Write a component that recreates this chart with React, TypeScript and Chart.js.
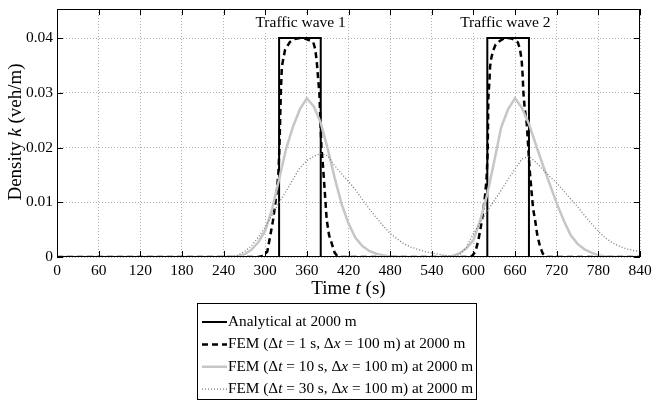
import { useEffect, useRef } from "react";
import { Chart, registerables } from "chart.js";

Chart.register(...registerables);

const FONT = '"Liberation Serif", "Times New Roman", serif';
const FS = 15.5;
const TITLE_FS = 19;
const LEGEND_FS = 15.3;

// ---- axis definitions ----
const X_MIN = 0;
const X_MAX = 840;
const Y_MIN = 0;
const Y_MAX = 0.0453;
const xTickValues = [0, 60, 120, 180, 240, 300, 360, 420, 480, 540, 600, 660, 720, 780, 840];
const yTickValues = [0, 0.01, 0.02, 0.03, 0.04];

// ---- series data: [time (s), density (veh/m)] ----
const analytical: [number, number][] = [
  [0, 0], [320, 0], [320, 0.04], [380, 0.04], [380, 0],
  [620, 0], [620, 0.04], [680, 0.04], [680, 0], [840, 0],
];

const fem1Wave1: [number, number][] = [
  [0, 0], [290, 0], [298, 0.0002], [303, 0.001], [307, 0.0037], [311, 0.0065], [314, 0.0092],
  [317, 0.0125], [319, 0.0153], [320.5, 0.02], [321.5, 0.025], [322.5, 0.03], [324, 0.0348],
  [328.5, 0.0378], [335.7, 0.0393], [342, 0.0398], [350, 0.04], [357, 0.0399], [363, 0.0396],
  [369.3, 0.0392], [372, 0.038], [374, 0.036], [376, 0.033], [378, 0.03], [379.5, 0.025],
  [381, 0.02], [383, 0.017], [386, 0.0116], [388.6, 0.0068], [392, 0.004], [395.8, 0.0025],
  [400, 0.0008], [405, 0],
];
const fem1Wave2: [number, number][] = [
  [590, 0], [598, 0.0002], [603, 0.001], [607, 0.003], [610, 0.005], [614, 0.0082], [617, 0.0115],
  [619, 0.0145], [620.5, 0.019], [621, 0.024], [621.5, 0.029], [623, 0.032], [624, 0.0348],
  [626, 0.0365], [628.7, 0.0378], [632, 0.0388], [636, 0.0393], [642, 0.0398], [648, 0.04],
  [655, 0.0399], [660, 0.0396], [664, 0.0392], [667, 0.038], [669.5, 0.036], [671, 0.033],
  [672, 0.03], [674, 0.027], [676.8, 0.0244], [679, 0.02], [681, 0.016], [684, 0.0116],
  [686, 0.0088], [688.8, 0.0068], [692, 0.004], [696, 0.0019], [700, 0.0006], [706, 0], [840, 0],
];

const fem10Wave1: [number, number][] = [
  [0, 0], [250, 0], [260, 0.0001], [270, 0.0005], [280, 0.0013], [290, 0.0027], [300, 0.0048],
  [310, 0.0088], [320, 0.0142], [330, 0.0197], [340, 0.0238], [350, 0.027], [360, 0.029],
  [370, 0.0275], [380, 0.0245], [390, 0.0198], [400, 0.0145], [410, 0.0097], [420, 0.0061],
  [430, 0.0035], [440, 0.002], [450, 0.0011], [460, 0.0006], [470, 0.0003], [480, 0.0001], [500, 0],
];
const fem10Wave2: [number, number][] = [
  [560, 0], [570, 0.0002], [580, 0.0007], [590, 0.0016], [600, 0.0031], [610, 0.0068],
  [620, 0.0115], [630, 0.0175], [640, 0.0237], [650, 0.027], [660, 0.029], [670, 0.0272],
  [680, 0.0243], [690, 0.0205], [700, 0.0168], [710, 0.0133], [720, 0.0098], [730, 0.0067],
  [740, 0.004], [750, 0.0024], [760, 0.0014], [770, 0.0008], [780, 0.0003], [790, 0.0001],
  [810, 0], [840, 0],
];

const fem30Wave1: [number, number][] = [
  [0, 0], [250, 0], [260, 0.0003], [270, 0.001], [280, 0.002], [290, 0.0036], [300, 0.0055],
  [310, 0.0077], [320, 0.0099], [330, 0.012], [340, 0.0142], [350, 0.0163], [360, 0.0176],
  [370, 0.0184], [380, 0.0189], [390, 0.0185], [400, 0.0167], [410, 0.0152], [420, 0.0138],
  [430, 0.0123], [440, 0.0105], [450, 0.0088], [460, 0.0072], [470, 0.0057], [480, 0.0043],
  [490, 0.0033], [500, 0.0024], [510, 0.0018], [520, 0.0014], [530, 0.001], [540, 0.0007],
  [550, 0.0005], [560, 0.0003], [570, 0.0002],
];
const fem30Wave2: [number, number][] = [
  [575, 0.0002], [580, 0.0004], [590, 0.0018], [600, 0.0043], [610, 0.0063], [620, 0.0084],
  [630, 0.0103], [640, 0.0122], [650, 0.0142], [660, 0.0161], [670, 0.0179], [680, 0.0184],
  [690, 0.0173], [700, 0.016], [710, 0.0147], [720, 0.0135], [730, 0.0121], [740, 0.0106],
  [750, 0.0092], [760, 0.0076], [770, 0.0061], [780, 0.0047], [790, 0.0035], [800, 0.0026],
  [810, 0.002], [820, 0.0015], [830, 0.0012], [840, 0.001],
];

// ---- annotations ----
const waveLabels = ["Traffic wave 1", "Traffic wave 2"];
const waveLabelTimes = [351, 646];
const waveLabelDensity = 0.0427;

type Seg = { t: string; i?: boolean };
const xTitle: Seg[] = [{ t: "Time " }, { t: "t", i: true }, { t: " (s)" }];
const yTitle: Seg[] = [{ t: "Density " }, { t: "k", i: true }, { t: " (veh/m)" }];
const legendLabels: Seg[][] = [
  [{ t: "Analytical at 2000 m" }],
  [{ t: "FEM (\u0394" }, { t: "t", i: true }, { t: " = 1 s, \u0394" }, { t: "x", i: true }, { t: " = 100 m) at 2000 m" }],
  [{ t: "FEM (\u0394" }, { t: "t", i: true }, { t: " = 10 s, \u0394" }, { t: "x", i: true }, { t: " = 100 m) at 2000 m" }],
  [{ t: "FEM (\u0394" }, { t: "t", i: true }, { t: " = 30 s, \u0394" }, { t: "x", i: true }, { t: " = 100 m) at 2000 m" }],
];

const styles = [
  { color: "#000000", width: 2, dash: [] as number[] },
  { color: "#000000", width: 2.5, dash: [6, 4] },
  { color: "#c6c6c6", width: 2.5, dash: [] as number[] },
  { color: "#7a7a7a", width: 1.3, dash: [1, 2] },
];

const toPts = (arr: [number, number][]) => arr.map(([x, y]) => ({ x, y }));

function drawRich(
  ctx: CanvasRenderingContext2D,
  segs: Seg[],
  x: number,
  y: number,
  align: "left" | "center",
  size: number
) {
  const fonts = segs.map((s) => `${s.i ? "italic " : ""}${size}px ${FONT}`);
  const widths = segs.map((s, k) => {
    ctx.font = fonts[k];
    return ctx.measureText(s.t).width;
  });
  const total = widths.reduce((a, b) => a + b, 0);
  let cx = align === "center" ? x - total / 2 : x;
  ctx.textAlign = "left";
  ctx.textBaseline = "middle";
  ctx.fillStyle = "#000";
  segs.forEach((s, k) => {
    ctx.font = fonts[k];
    ctx.fillText(s.t, cx, y);
    cx += widths[k];
  });
  return total;
}

const decorPlugin = {
  id: "decor",
  afterDraw(chart: any) {
    const { ctx, chartArea: a, scales } = chart;
    const x = scales.x;
    const y = scales.y;
    ctx.save();
    ctx.setLineDash([]);

    // wave labels with white background
    ctx.font = `${FS}px ${FONT}`;
    waveLabels.forEach((lab, i) => {
      const px = x.getPixelForValue(waveLabelTimes[i]);
      const py = y.getPixelForValue(waveLabelDensity);
      const w = ctx.measureText(lab).width;
      ctx.fillStyle = "#fff";
      ctx.fillRect(px - w / 2 - 1, py - 8, w + 2, 16);
      ctx.fillStyle = "#000";
      ctx.textAlign = "center";
      ctx.textBaseline = "middle";
      ctx.fillText(lab, px, py);
    });

    // frame
    ctx.strokeStyle = "#000";
    ctx.lineWidth = 1;
    ctx.strokeRect(a.left + 0.5, a.top + 0.5, a.right - a.left - 1, a.bottom - a.top - 1);

    // inward ticks
    const TL = 6;
    ctx.beginPath();
    xTickValues.forEach((v) => {
      const px = Math.round(x.getPixelForValue(v)) + 0.5;
      ctx.moveTo(px, a.bottom);
      ctx.lineTo(px, a.bottom - TL);
      ctx.moveTo(px, a.top);
      ctx.lineTo(px, a.top + TL);
    });
    yTickValues.forEach((v) => {
      const py = Math.round(y.getPixelForValue(v)) + 0.5;
      ctx.moveTo(a.left, py);
      ctx.lineTo(a.left + TL, py);
      ctx.moveTo(a.right, py);
      ctx.lineTo(a.right - TL, py);
    });
    ctx.stroke();

    // axis titles
    drawRich(ctx, xTitle, (a.left + a.right) / 2, 289, "center", TITLE_FS);
    ctx.save();
    ctx.translate(16, (a.top + a.bottom) / 2 - 1);
    ctx.rotate(-Math.PI / 2);
    drawRich(ctx, yTitle, 0, 0, "center", TITLE_FS);
    ctx.restore();

    // legend box
    const bx = 197, by = 303, bw = 280, bh = 97;
    ctx.fillStyle = "#fff";
    ctx.fillRect(bx, by, bw, bh);
    ctx.strokeStyle = "#000";
    ctx.lineWidth = 1;
    ctx.setLineDash([]);
    ctx.strokeRect(bx + 0.5, by + 0.5, bw - 1, bh - 1);
    legendLabels.forEach((segs, i) => {
      const ry = 322 + i * 22.4;
      const st = styles[i];
      ctx.save();
      ctx.strokeStyle = st.color;
      ctx.lineWidth = st.width;
      ctx.setLineDash(st.dash);
      ctx.beginPath();
      ctx.moveTo(202, ry);
      ctx.lineTo(227, ry);
      ctx.stroke();
      ctx.restore();
      drawRich(ctx, segs, 228, ry, "left", LEGEND_FS);
    });

    ctx.restore();
  },
};

export default function App() {
  const ref = useRef<HTMLCanvasElement | null>(null);

  useEffect(() => {
    if (!ref.current) return;
    const mk = (label: string, data: [number, number][], i: number, order: number) => ({
      label,
      data: toPts(data),
      borderColor: styles[i].color,
      backgroundColor: styles[i].color,
      borderWidth: styles[i].width,
      borderDash: styles[i].dash,
      pointRadius: 0,
      fill: false,
      tension: 0,
      order,
    });
    const chart = new Chart(ref.current, {
      type: "line",
      data: {
        datasets: [
          mk("Analytical at 2000 m", analytical, 0, 4),
          mk("FEM dt=1", [...fem1Wave1, ...fem1Wave2], 1, 3),
          mk("FEM dt=10", [...fem10Wave1, ...fem10Wave2], 2, 2),
          mk("FEM dt=30", [...fem30Wave1, ...fem30Wave2], 3, 1),
        ],
      },
      options: {
        animation: false,
        responsive: false,
        maintainAspectRatio: false,
        parsing: false as any,
        layout: { padding: { top: 9, right: 12, left: 0, bottom: 0 } },
        plugins: { legend: { display: false }, tooltip: { enabled: false } },
        scales: {
          x: {
            type: "linear",
            min: X_MIN,
            max: X_MAX,
            afterBuildTicks: (s: any) => {
              s.ticks = xTickValues.map((v) => ({ value: v }));
            },
            afterFit: (s: any) => {
              s.height = 153;
              s.paddingLeft = 0;
              s.paddingRight = 0;
            },
            grid: { color: "#b0b0b0", lineWidth: 1, drawTicks: false },
            border: { display: false, dash: [1, 2] },
            ticks: {
              padding: 5,
              color: "#000",
              font: { family: FONT, size: FS },
              maxRotation: 0,
              autoSkip: false,
              callback: (v: any) => String(v),
            },
          },
          y: {
            type: "linear",
            min: Y_MIN,
            max: Y_MAX,
            afterBuildTicks: (s: any) => {
              s.ticks = yTickValues.map((v) => ({ value: v }));
            },
            afterFit: (s: any) => {
              s.width = 57;
              s.paddingTop = 0;
              s.paddingBottom = 0;
            },
            grid: { color: "#b0b0b0", lineWidth: 1, drawTicks: false },
            border: { display: false, dash: [1, 2] },
            ticks: {
              padding: 4,
              color: "#000",
              font: { family: FONT, size: FS },
              autoSkip: false,
              callback: (v: any) => (Number(v) === 0 ? "0" : Number(v).toFixed(2)),
            },
          },
        },
      },
      plugins: [decorPlugin],
    });
    return () => chart.destroy();
  }, []);

  return (
    <div style={{ position: "absolute", left: 0, top: 0, width: 652, height: 410, background: "#fff" }}>
      <canvas ref={ref} width={652} height={410} style={{ display: "block", width: 652, height: 410 }} />
    </div>
  );
}
